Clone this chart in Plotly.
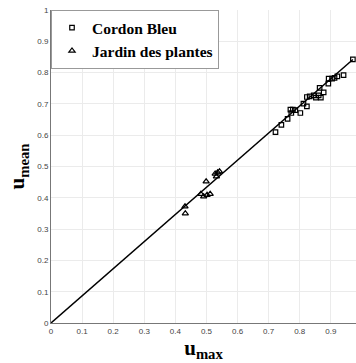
import plotly.graph_objects as go

# Cordon Bleu (squares)
cb_x = [0.722, 0.741, 0.761, 0.770, 0.778, 0.786, 0.773, 0.802, 0.812, 0.823,
        0.823, 0.832, 0.845, 0.852, 0.861, 0.868, 0.864, 0.877, 0.892, 0.893,
        0.904, 0.912, 0.921, 0.941, 0.971]
cb_y = [0.610, 0.633, 0.652, 0.682, 0.682, 0.680, 0.671, 0.671, 0.701, 0.692,
        0.722, 0.724, 0.727, 0.720, 0.727, 0.720, 0.751, 0.737, 0.765, 0.781,
        0.781, 0.783, 0.788, 0.792, 0.842]

# Jardin des plantes (triangles)
jp_x = [0.431, 0.432, 0.482, 0.491, 0.502, 0.512, 0.499, 0.528, 0.532, 0.536, 0.542]
jp_y = [0.372, 0.350, 0.412, 0.404, 0.409, 0.412, 0.452, 0.477, 0.468, 0.481, 0.484]

# fit line
line_x = [0.0, 0.971]
line_y = [0.0, 0.842]

x_ticks = [0, 0.1, 0.2, 0.3, 0.4, 0.5, 0.6, 0.7, 0.8, 0.9]
y_ticks = [0, 0.1, 0.2, 0.3, 0.4, 0.5, 0.6, 0.7, 0.8, 0.9, 1]

fig = go.Figure()
fig.add_trace(go.Scatter(x=line_x, y=line_y, mode="lines",
                         line=dict(color="black", width=1.5), showlegend=False))
fig.add_trace(go.Scatter(x=cb_x, y=cb_y, mode="markers", name="<b>Cordon Bleu</b>",
                         marker=dict(symbol="square-open", size=4.5, color="black",
                                     line=dict(width=1.2, color="black"))))
fig.add_trace(go.Scatter(x=jp_x, y=jp_y, mode="markers", name="<b>Jardin des plantes</b>",
                         marker=dict(symbol="triangle-up-open", size=5.5, color="black",
                                     line=dict(width=1.2, color="black"))))

axis_common = dict(showgrid=True, gridcolor="#ebebeb", gridwidth=1,
                   showline=True, linecolor="#777", linewidth=1, zeroline=False,
                   ticks="", tickfont=dict(family="Liberation Sans, Arial", size=8, color="#444"))

fig.update_layout(
    width=356, height=363,
    margin=dict(l=51, r=0, t=10, b=40),
    paper_bgcolor="white", plot_bgcolor="white",
    xaxis=dict(range=[0, 0.981], tickvals=x_ticks, ticktext=[str(v) for v in x_ticks],
               title=dict(text="<b>u<sub>max</sub></b>",
                          font=dict(family="Liberation Serif, Times New Roman", size=21, color="black"),
                          standoff=0),
               **axis_common),
    yaxis=dict(range=[0, 1], tickvals=y_ticks, ticktext=[str(v) for v in y_ticks],
               title=dict(text="<b>u<sub>mean</sub></b>",
                          font=dict(family="Liberation Serif, Times New Roman", size=21, color="black"),
                          standoff=6),
               **axis_common),
    legend=dict(x=0, y=1, xanchor="left", yanchor="top",
                bgcolor="white", bordercolor="#999", borderwidth=1,
                font=dict(family="Liberation Serif, Times New Roman", size=15.5, color="black"),
                tracegroupgap=0, itemwidth=30),
    showlegend=True,
)

fig.write_html("out.html")
